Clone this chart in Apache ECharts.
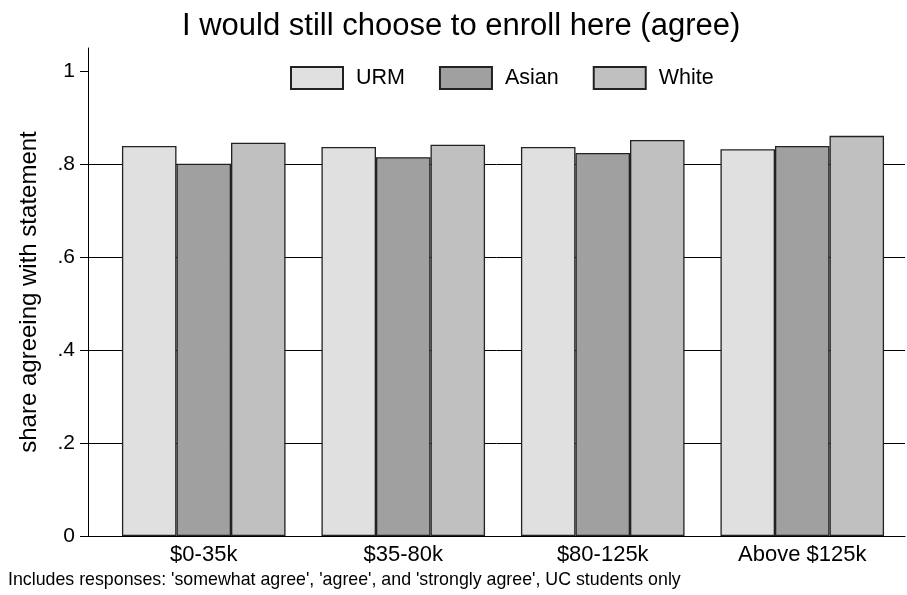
<!DOCTYPE html>
<html><head><meta charset="utf-8">
<script src="https://cdn.jsdelivr.net/npm/echarts@6/dist/echarts.min.js"></script>
<style>html,body{margin:0;padding:0;background:#fff}#c{width:907px;height:595px}</style>
</head><body><div id="c"></div>
<script>
const categories = ['$0-35k', '$35-80k', '$80-125k', 'Above $125k'];
const urm   = [0.839, 0.837, 0.837, 0.832];
const asian = [0.801, 0.815, 0.824, 0.839];
const white = [0.846, 0.842, 0.852, 0.861];
const yTicks = [0, 0.2, 0.4, 0.6, 0.8, 1];
const tickLabels = ['0', '.2', '.4', '.6', '.8', '1'];

const FONT = 'Liberation Sans, Arial, Helvetica, sans-serif';
const chart = echarts.init(document.getElementById('c'), null, {renderer: 'canvas'});
const barStyle = c => ({color: c, borderColor: '#222', borderWidth: 1.3});
const TOP = 48, BOTTOM = 59;
chart.setOption({
  animation: false,
  backgroundColor: '#fff',
  title: {text: 'I would still choose to enroll here (agree)', left: 177, top: 6,
    textStyle: {fontFamily: FONT, fontSize: 31, fontWeight: 'normal', color: '#000'}},
  legend: {top: 66, left: 290, padding: 0, itemWidth: 52, itemHeight: 22, itemGap: 34, icon: 'rect',
    textStyle: {fontFamily: FONT, fontSize: 21.5, color: '#000', padding: [0,0,0,8]},
    data: ['URM', 'Asian', 'White']},
  graphic: [{type: 'text', left: 8, top: 571,
    style: {text: "Includes responses: 'somewhat agree', 'agree', and 'strongly agree', UC students only",
      font: '17.8px ' + FONT, fill: '#000'}}],
  grid: [
    {left: 88, right: 2, top: TOP, bottom: BOTTOM},
    {left: 104, right: 5, top: TOP, bottom: BOTTOM}
  ],
  xAxis: [
    {gridIndex: 0, type: 'value', min: 0, max: 1, axisLine: {show: true, lineStyle: {color: '#000', width: 1.2}},
      axisTick: {show: false}, axisLabel: {show: false}, splitLine: {show: false}},
    {gridIndex: 1, type: 'category', data: categories, axisLine: {show: false}, axisTick: {show: false},
      axisLabel: {fontFamily: FONT, fontSize: 22, color: '#000', margin: 8}}
  ],
  yAxis: [
    {gridIndex: 0, type: 'value', min: 0, max: 1.05, interval: 0.2,
      name: 'share agreeing with statement', nameLocation: 'middle', nameGap: 47,
      nameTextStyle: {fontFamily: FONT, fontSize: 24, color: '#000'},
      axisLine: {show: true, lineStyle: {color: '#000', width: 1}},
      axisTick: {show: true, length: 8, customValues: yTicks, lineStyle: {color: '#000'}},
      axisLabel: {fontFamily: FONT, fontSize: 21, color: '#000', margin: 13, customValues: yTicks,
        formatter: v => { const i = yTicks.findIndex(t => Math.abs(t - v) < 1e-6); return i >= 0 ? tickLabels[i] : ''; }},
      splitLine: {show: true, showMinLine: false, showMaxLine: false, lineStyle: {color: '#000', width: 1}}},
    {gridIndex: 1, type: 'value', min: 0, max: 1.05, show: false, splitLine: {show: false}}
  ],
  series: [
    {name: 'URM', type: 'bar', xAxisIndex: 1, yAxisIndex: 1, data: urm, barGap: '0%', barCategoryGap: '18%', itemStyle: barStyle('#e0e0e0')},
    {name: 'Asian', type: 'bar', xAxisIndex: 1, yAxisIndex: 1, data: asian, itemStyle: barStyle('#a0a0a0')},
    {name: 'White', type: 'bar', xAxisIndex: 1, yAxisIndex: 1, data: white, itemStyle: barStyle('#c0c0c0')}
  ]
});
</script></body></html>
